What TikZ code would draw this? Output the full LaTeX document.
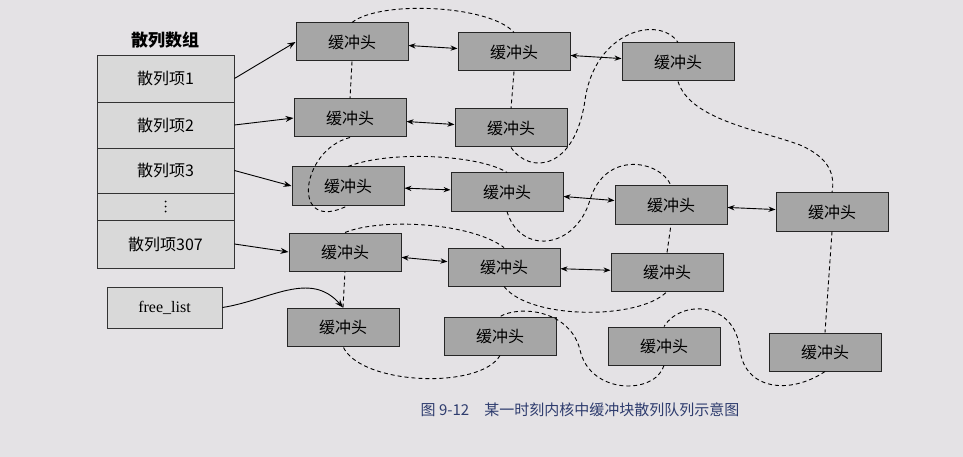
\documentclass[tikz,border=0pt]{standalone}
\usepackage{fontspec}
\setmainfont{Liberation Serif}
\newfontfamily\cjk{Noto Sans CJK SC}
\usetikzlibrary{arrows.meta}
\definecolor{bg}{HTML}{E4E2E5}
\definecolor{cap}{HTML}{2E3C6E}
\tikzset{
  buf/.style={draw=black!85,line width=1pt,fill=black!35,minimum width=112pt,minimum height=38pt,inner sep=0pt,font=\cjk\fontsize{16}{18}\selectfont},
  cell/.style={draw=black!80,line width=0.9pt,fill=black!15,minimum width=137pt,inner sep=0pt,font=\cjk\fontsize{16}{18}\selectfont},
  link/.style={line width=0.9pt,{Stealth[length=7pt]}-{Stealth[length=7pt]}},
  ptr/.style={line width=0.9pt,-{Stealth[length=8pt]}},
  chain/.style={dashed,line width=0.9pt,dash pattern=on 4pt off 3pt}
}
\begin{document}
\begin{tikzpicture}[x=1pt,y=-1pt]
\fill[bg] (0,0) rectangle (963,457);
\useasboundingbox (0,0) rectangle (963,457);
\node[font=\cjk\bfseries\fontsize{17}{19}\selectfont] (title) at (165,40) {散列数组};
\node[cell,minimum height=47pt] (h1) at (165.5,78.5) {散列项1};
\node[cell,minimum height=46pt] (h2) at (165.5,125) {散列项2};
\node[cell,minimum height=45pt] (h3) at (165.5,170.5) {散列项3};
\node[cell,minimum height=27pt] (hd) at (165.5,206.5) {};
\foreach \dy in {-5,0,5} \fill ([yshift=\dy pt]hd.center) circle (1pt);
\node[cell,minimum height=48pt] (h4) at (165.5,244) {散列项307};
\node[cell,minimum width=115pt,minimum height=41pt,font=\fontsize{16}{18}\selectfont] (fl) at (164.5,307.5) {free\_list};
\node[buf] (A1) at (352,42) {缓冲头};
\node[buf] (A2) at (514,52) {缓冲头};
\node[buf] (A3) at (678,62) {缓冲头};
\node[buf] (B1) at (350,118) {缓冲头};
\node[buf] (B2) at (511,128) {缓冲头};
\node[buf] (C1) at (348,186) {缓冲头};
\node[buf] (C2) at (507,192) {缓冲头};
\node[buf] (C3) at (671,205) {缓冲头};
\node[buf] (C4) at (832,212) {缓冲头};
\node[buf] (D1) at (345,252) {缓冲头};
\node[buf] (D2) at (504,267) {缓冲头};
\node[buf] (D3) at (667,272) {缓冲头};
\node[buf] (E1) at (343,327) {缓冲头};
\node[buf] (E2) at (500,336) {缓冲头};
\node[buf] (E3) at (664,346) {缓冲头};
\node[buf] (E4) at (825,352) {缓冲头};
\node[font=\cjk\fontsize{15}{17}\selectfont,text=cap] (caption) at (580,410) {图 9-12\quad 某一时刻内核中缓冲块散列队列示意图};
% pointers
\draw[ptr] (h1.east) -- (A1.west);
\draw[ptr] (h2.east) -- (B1.west);
\draw[ptr] (h3.east) -- (C1.west);
\draw[ptr] (h4.east) -- (D1.west);
\draw[ptr] (fl.east) .. controls (270,300) and (310,270) .. (E1.north);
% links
\draw[link] (A1) -- (A2);
\draw[link] (A2) -- (A3);
\draw[link] (B1) -- (B2);
\draw[link] (C1) -- (C2);
\draw[link] (C2) -- (C3);
\draw[link] (C3) -- (C4);
\draw[link] (D1) -- (D2);
\draw[link] (D2) -- (D3);
% free chain
\draw[chain] (A1.north) .. controls (380,0) and (490,5) .. (A2.north);
\draw[chain] (A1.south) -- (B1.north);
\draw[chain] (A2.south) -- (B2.north);
\draw[chain] (B2.south) .. controls (530,175) and (575,170) .. (585,100) .. controls (595,30) and (660,15) .. (A3.north);
\draw[chain] (A3.south) .. controls (690,120) and (760,130) .. (800,145) .. controls (830,158) and (835,175) .. (C4.north);
\draw[chain] (C4.south) -- (E4.north);
\draw[chain] (E4.south) .. controls (790,395) and (745,390) .. (740,350) .. controls (735,300) and (680,300) .. (E3.north);
\draw[chain] (E3.south) .. controls (655,395) and (590,395) .. (580,350) .. controls (570,310) and (520,305) .. (E2.north);
\draw[chain] (E2.south) .. controls (480,390) and (360,385) .. (E1.south);
\draw[chain] (E1.north) -- (D1.south);
\draw[chain] (D1.north) .. controls (380,218) and (470,222) .. (D2.north);
\draw[chain] (D2.south) .. controls (530,320) and (640,320) .. (D3.south);
\draw[chain] (D3.north) -- (C3.south);
\draw[chain] (C2.south) .. controls (520,255) and (575,250) .. (590,200) .. controls (605,150) and (660,160) .. (C3.north);
\draw[chain] (C1.north) .. controls (390,150) and (480,155) .. (C2.north);
\draw[chain] (B1.south) .. controls (300,150) and (290,235) .. (C1.south);
\end{tikzpicture}
\end{document}
